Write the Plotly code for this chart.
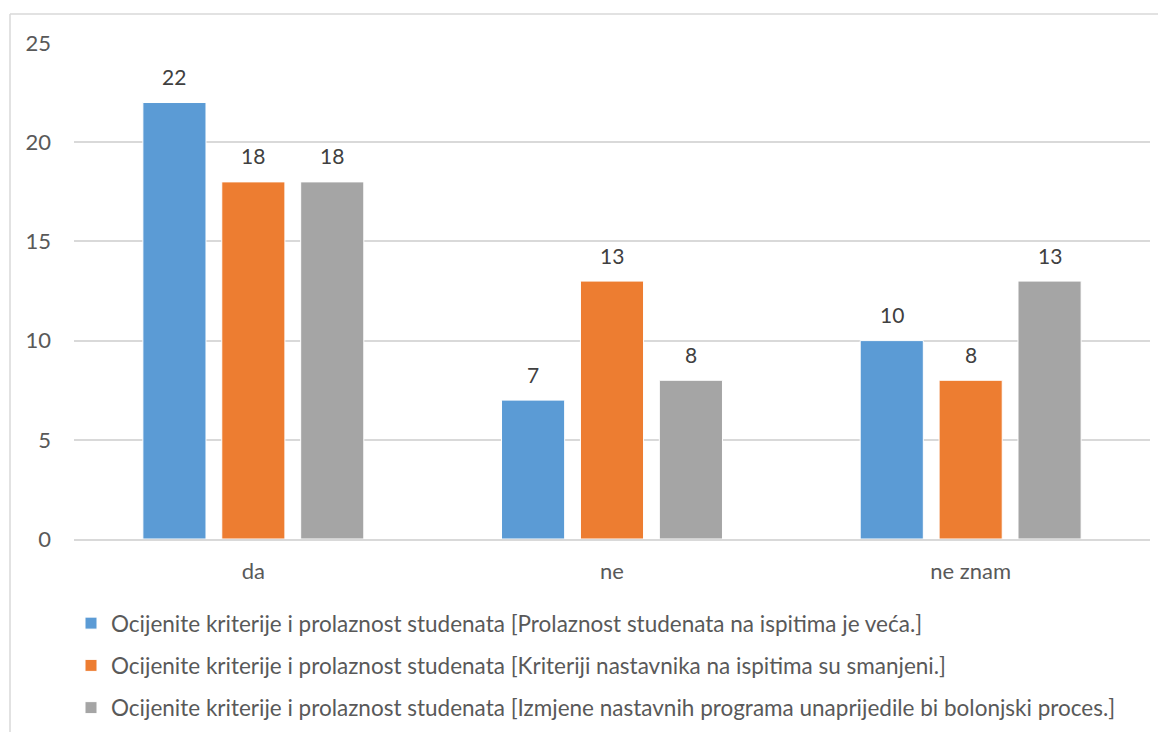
import plotly.graph_objects as go

categories = ["da", "ne", "ne znam"]
series_names = [
    "Ocijenite kriterije i prolaznost studenata [Prolaznost studenata na ispitima je veća.]",
    "Ocijenite kriterije i prolaznost studenata [Kriteriji nastavnika na ispitima su smanjeni.]",
    "Ocijenite kriterije i prolaznost studenata [Izmjene nastavnih programa unaprijedile bi bolonjski proces.]",
]
values_prolaznost = [22, 7, 10]
values_kriteriji = [18, 13, 8]
values_izmjene = [18, 8, 13]
colors = ["#5B9BD5", "#ED7D31", "#A5A5A5"]
y_ticks = [0, 5, 10, 15, 20, 25]

FONT = "Lato"
# figure is placed with the page's 8px body margin
W, H = 1150, 724
L, R, T, B = 66, 8, 35, 193
BARGAP = 0.34
BARGROUPGAP = 0.2

all_series = [values_prolaznost, values_kriteriji, values_izmjene]

fig = go.Figure()
for i, (name, vals) in enumerate(zip(series_names, all_series)):
    fig.add_trace(go.Bar(
        x=categories, y=vals, name=name,
        marker=dict(color=colors[i], line=dict(color="white", width=1)),
        legendgroup=f"g{i}",
    ))

# data labels above bars
slot = (1 - BARGAP) / len(all_series)
annotations = []
for j, vals in enumerate(all_series):
    for i, v in enumerate(vals):
        annotations.append(dict(
            x=i + (j - (len(all_series) - 1) / 2) * slot, y=v,
            xref="x", yref="y", text=str(v), showarrow=False,
            yanchor="middle", yshift=26,
            font=dict(family=FONT, size=21, color="#404040"),
        ))

pw = W - L - R
ph = H - T - B
def px_x(px):
    return (px - L) / pw
def px_y(py):
    return (H - B - py) / ph

fig.update_layout(
    width=W, height=H,
    margin=dict(l=L, r=R, t=T, b=B, autoexpand=False),
    paper_bgcolor="white", plot_bgcolor="white",
    barmode="group", bargap=BARGAP, bargroupgap=BARGROUPGAP,
    font=dict(family=FONT, size=22, color="#595959"),
    showlegend=True,
    legend=dict(
        orientation="v", x=px_x(63), xanchor="left", y=px_y(594), yanchor="top",
        xref="paper", yref="paper",
        font=dict(family=FONT, size=22.5, color="#595959"),
        tracegroupgap=10, bgcolor="rgba(0,0,0,0)",
    ),
    xaxis=dict(
        showgrid=False, showline=True, linecolor="#D9D9D9", linewidth=1.5,
        ticks="", tickfont=dict(family=FONT, size=22, color="#595959"),
        ticklabelstandoff=12,
    ),
    yaxis=dict(
        range=[0, 25], tickvals=y_ticks, showgrid=True, gridcolor="#D9D9D9", gridwidth=1.5,
        zeroline=False, showline=False, ticks="",
        tickfont=dict(family=FONT, size=22, color="#595959"),
        ticklabelstandoff=22,
    ),
    annotations=annotations,
    shapes=[
        dict(type="line", xref="paper", yref="paper", x0=px_x(2), x1=px_x(1170), y0=px_y(6), y1=px_y(6),
             line=dict(color="#D9D9D9", width=1.5)),
        dict(type="line", xref="paper", yref="paper", x0=px_x(2), x1=px_x(2), y0=px_y(6), y1=px_y(745),
             line=dict(color="#D9D9D9", width=1.5)),
    ],
)

fig.write_html("out.html")
